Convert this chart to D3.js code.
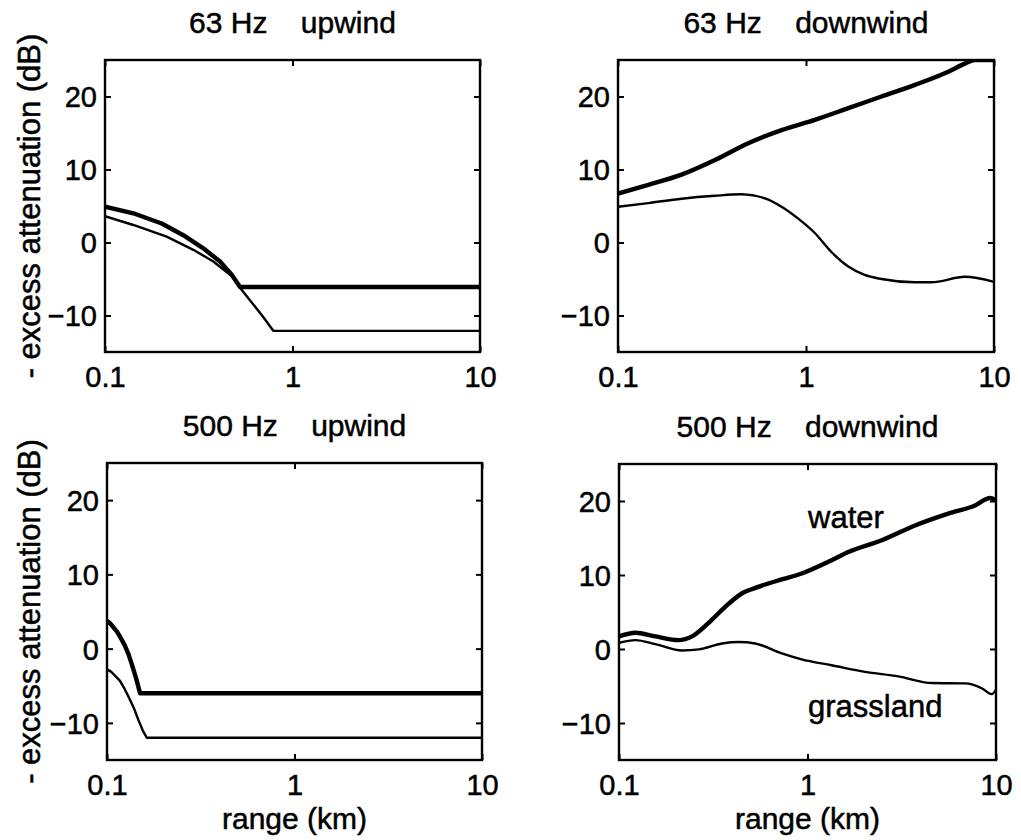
<!DOCTYPE html>
<html>
<head>
<meta charset="utf-8">
<script src="https://cdn.jsdelivr.net/npm/d3@7"></script>
<style>
  body { margin: 0; background: #fff; }
  text { font-family: "Liberation Sans", Arial, sans-serif; fill: #000; stroke: #000; stroke-width: 0.5px; }
</style>
</head>
<body>
<div id="main-container"></div>
<script>
// DATA  (range in km, minus excess attenuation in dB)
const rangeTicks = [0.1, 1, 10];
const dbTicks = [-10, 0, 10, 20];
const panelTitles = ["63 Hz    upwind", "63 Hz    downwind", "500 Hz    upwind", "500 Hz    downwind"];
const seriesNames = ["water", "grassland"];

const up63Water = [[0.1,4.9],[0.1416,4.0],[0.2006,2.6],[0.2616,1.0],[0.3343,-0.8],[0.4105,-2.6],[0.474,-4.4],[0.525,-6.1],[10,-6.1]];
const up63Grass = [[0.1,3.6],[0.1416,2.4],[0.2133,0.8],[0.2958,-1.0],[0.3784,-2.6],[0.474,-4.6],[0.525,-6.2],[0.593,-7.9],[0.698,-10.2],[0.79,-12.1],[10,-12.1]];

const down63Water = [[0.1,6.7],[0.145,7.9],[0.218,9.3],[0.328,11.3],[0.493,13.6],[0.741,15.4],[1.114,16.8],[1.679,18.4],[2.52,20.0],[3.8,21.6],[5.71,23.4],[7.0,24.5],[7.9,25],[10,25]];
const down63Grass = [[0.1,4.9],[0.145,5.4],[0.218,6.0],[0.328,6.4],[0.453,6.6],[0.605,6.05],[0.741,4.9],[0.906,3.3],[1.114,1.3],[1.365,-1.3],[1.679,-3.3],[2.05,-4.45],[2.52,-5.0],[3.8,-5.45],[4.65,-5.45],[7.0,-4.7],[10,-5.4]];

const up500Water = [[0.1,3.7],[0.104,3.4],[0.108,2.9],[0.113,2.3],[0.118,1.5],[0.124,0.5],[0.13,-0.7],[0.136,-2.2],[0.143,-4.0],[0.15,-6.0],[10,-6.0]];
const up500Grass = [[0.1,-2.8],[0.105,-3.1],[0.11,-3.6],[0.117,-4.3],[0.124,-5.4],[0.131,-6.6],[0.139,-8.0],[0.147,-9.6],[0.155,-11.0],[0.163,-12.0],[10,-12.0]];

const down500Water = [[0.1,1.7],[0.122,2.2],[0.156,1.7],[0.207,1.2],[0.244,1.7],[0.298,3.5],[0.366,5.7],[0.448,7.5],[0.548,8.4],[0.73,9.4],[0.931,10.2],[1.343,12.0],[1.647,13.1],[2.48,14.7],[3.72,16.7],[5.58,18.3],[7.74,19.4],[9.3,20.4],[10,20.1]];
const down500Grass = [[0.1,0.85],[0.122,1.2],[0.156,0.66],[0.216,-0.2],[0.265,-0.05],[0.352,0.75],[0.431,0.95],[0.528,0.75],[0.73,-0.6],[0.931,-1.4],[1.343,-2.2],[2.02,-3.1],[3.03,-3.7],[4.56,-4.6],[6.86,-4.65],[8.4,-5.3],[9.5,-6.1],[10,-5.5]];

// LAYOUT
const W = 1021, H = 840;
const panels = [
  {title: panelTitles[0], water: up63Water,   grass: up63Grass,   x0: 105, x1: 480, y0: 60,  y1: 352, curve: d3.curveLinear,     yLab: true,  xLab: false},
  {title: panelTitles[1], water: down63Water, grass: down63Grass, x0: 618, x1: 994, y0: 60,  y1: 352, curve: d3.curveMonotoneX, yLab: false, xLab: false},
  {title: panelTitles[2], water: up500Water,  grass: up500Grass,  x0: 107, x1: 482, y0: 463, y1: 760, curve: d3.curveLinear,     yLab: true,  xLab: true},
  {title: panelTitles[3], water: down500Water,grass: down500Grass,x0: 619, x1: 996, y0: 464, y1: 760, curve: d3.curveMonotoneX, yLab: false, xLab: true, names: true}
];

let svg = d3.select("#main-container")
  .append("svg")
    .attr("width", W)
    .attr("height", H);

panels.forEach((p, i) => {
  let x = d3.scaleLog().domain([0.1, 10]).range([p.x0, p.x1]);
  let y = d3.scaleLinear().domain([-15, 25]).range([p.y1, p.y0]);
  let g = svg.append("g").attr("class", "panel");

  g.append("clipPath").attr("id", `clip${i}`)
    .append("rect")
      .attr("x", p.x0).attr("y", p.y0)
      .attr("width", p.x1 - p.x0).attr("height", p.y1 - p.y0);

  // axes with inward ticks
  g.append("g")
    .attr("transform", `translate(${p.x0},0)`)
    .call(d3.axisLeft(y).tickValues(dbTicks).tickSizeInner(-6).tickSizeOuter(0).tickPadding(8))
    .call(a => a.select(".domain").remove())
    .selectAll("text").style("font-size", "29px").attr("dy", "0.36em");
  g.append("g")
    .attr("transform", `translate(${p.x1},0)`)
    .call(d3.axisRight(y).tickValues(dbTicks).tickSizeInner(-6).tickSizeOuter(0).tickFormat(""))
    .call(a => a.select(".domain").remove());
  g.append("g")
    .attr("transform", `translate(0,${p.y1})`)
    .call(d3.axisBottom(x).tickValues(rangeTicks).tickFormat(d => d).tickSizeInner(-6).tickSizeOuter(0).tickPadding(14))
    .call(a => a.select(".domain").remove())
    .selectAll("text").style("font-size", "29px");
  g.append("g")
    .attr("transform", `translate(0,${p.y0})`)
    .call(d3.axisTop(x).tickValues(rangeTicks).tickSizeInner(-6).tickSizeOuter(0).tickFormat(""))
    .call(a => a.select(".domain").remove());
  g.selectAll(".tick line").attr("stroke", "#000").attr("stroke-width", 2);

  g.append("rect")
    .attr("x", p.x0).attr("y", p.y0)
    .attr("width", p.x1 - p.x0).attr("height", p.y1 - p.y0)
    .attr("fill", "none").attr("stroke", "#000").attr("stroke-width", 2.4);

  let line = d3.line()
    .x(d => x(d[0]))
    .y(d => y(d[1]))
    .curve(p.curve);

  g.append("path")
    .datum(p.grass)
    .attr("clip-path", `url(#clip${i})`)
    .attr("fill", "none").attr("stroke", "#000").attr("stroke-width", 2.4)
    .attr("stroke-linejoin", "round")
    .attr("d", line);
  g.append("path")
    .datum(p.water)
    .attr("clip-path", `url(#clip${i})`)
    .attr("fill", "none").attr("stroke", "#000").attr("stroke-width", 4.4)
    .attr("stroke-linejoin", "round")
    .attr("d", line);

  g.append("text")
    .attr("x", (p.x0 + p.x1) / 2)
    .attr("y", p.y0 - 27)
    .attr("text-anchor", "middle")
    .style("font-size", "30px")
    .style("white-space", "pre")
    .text(p.title);

  if (p.xLab) {
    g.append("text")
      .attr("x", (p.x0 + p.x1) / 2)
      .attr("y", p.y1 + 69)
      .attr("text-anchor", "middle")
      .style("font-size", "30px")
      .text("range (km)");
  }
  if (p.yLab) {
    g.append("text")
      .attr("transform", `translate(40,${(p.y0 + p.y1) / 2}) rotate(-90)`)
      .attr("text-anchor", "middle")
      .style("font-size", "31px")
      .style("white-space", "pre")
      .text("- excess attenuation (dB)");
  }
  if (p.names) {
    g.append("text")
      .attr("x", 808).attr("y", y(16.3))
      .style("font-size", "31px")
      .text(seriesNames[0]);
    g.append("text")
      .attr("x", 808).attr("y", y(-9.2))
      .style("font-size", "31px")
      .text(seriesNames[1]);
  }
});
</script>
</body>
</html>
